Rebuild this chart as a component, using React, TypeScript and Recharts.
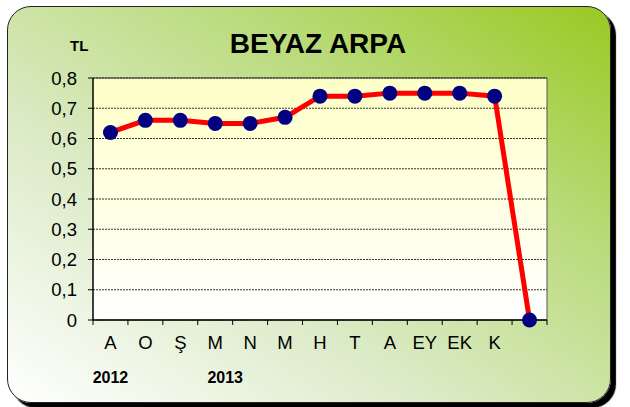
import { LineChart, Line, XAxis, YAxis, CartesianGrid, ReferenceLine } from 'recharts';

const months = ['A', 'O', 'Ş', 'M', 'N', 'M', 'H', 'T', 'A', 'EY', 'EK', 'K', ''];
const prices = [0.62, 0.66, 0.66, 0.65, 0.65, 0.67, 0.74, 0.74, 0.75, 0.75, 0.75, 0.74, 0];
const years = ['2012', '', '', '2013', '', '', '', '', '', '', '', '', ''];
const yTicks = [0, 0.1, 0.2, 0.3, 0.4, 0.5, 0.6, 0.7, 0.8];
const xTicks = [0, 1, 2, 3, 4, 5, 6, 7, 8, 9, 10, 11, 12, 13];

const W = 630;
const H = 407;
const margin = { top: 78, right: 83, bottom: 27, left: 33 };
const Y_AXIS_W = 60;
const BAND = (W - margin.left - Y_AXIS_W - margin.right) / months.length;
const FONT = '"Liberation Sans", Arial, sans-serif';

const data = months.map((m, i) => ({ x: i + 0.5, month: m, price: prices[i] }));

function MonthTick(props: any) {
  const { x, y, payload } = props;
  const i = payload.value;
  if (i >= months.length) return null;
  const cx = x + BAND / 2;
  return (
    <g>
      <text x={cx} y={y + 22} textAnchor="middle" fontSize={18.5} fill="#000" fontFamily={FONT}>
        {months[i]}
      </text>
      {years[i] && (
        <text x={cx + (i === 3 ? 10 : 0)} y={y + 56} textAnchor="middle" fontSize={16} fontWeight="bold" fill="#000" fontFamily={FONT}>
          {years[i]}
        </text>
      )}
    </g>
  );
}

const fmt = (v: number) => (v === 0 ? '0' : v.toFixed(1).replace('.', ','));

export default function App() {
  return (
    <div style={{ position: 'absolute', left: 0, top: 0, width: W, height: H, fontFamily: FONT }}>
      <div
        style={{
          position: 'absolute',
          left: 7,
          top: 6,
          width: 602,
          height: 395,
          borderRadius: 24,
          border: '1.5px solid #222',
          boxShadow: '5px 5px 1px #000',
          background: 'linear-gradient(to top right, #ffffff 0%, #dcebc8 35%, #b9da78 70%, #99c922 100%)',
        }}
      />
      <div style={{ position: 'absolute', left: 70, top: 37, fontSize: 15, fontWeight: 'bold' }}>TL</div>
      <div style={{ position: 'absolute', left: 0, width: 636, top: 28, textAlign: 'center', fontSize: 28, fontWeight: 'bold' }}>
        BEYAZ ARPA
      </div>
      <div style={{ position: 'absolute', left: 0, top: 0 }}>
        <LineChart width={W} height={H} data={data} margin={margin}>
          <defs>
            <linearGradient id="plotBg" x1="0" y1="0" x2="0" y2="1">
              <stop offset="0%" stopColor="#ffffc8" />
              <stop offset="100%" stopColor="#ffffff" />
            </linearGradient>
          </defs>
          <CartesianGrid vertical={false} fill="url(#plotBg)" fillOpacity={1} stroke="#333" strokeDasharray="2 1" />
          <XAxis
            dataKey="x"
            type="number"
            domain={[0, 13]}
            ticks={xTicks}
            interval={0}
            height={60}
            tick={<MonthTick />}
            tickSize={5}
            tickLine={{ stroke: '#000' }}
            axisLine={{ stroke: '#000', strokeWidth: 1.5 }}
          />
          <YAxis
            type="number"
            domain={[0, 0.8]}
            ticks={yTicks}
            width={Y_AXIS_W}
            tickFormatter={fmt}
            tick={{ fill: '#000', fontSize: 18.5, fontFamily: FONT }}
            tickSize={5}
            tickMargin={11}
            tickLine={{ stroke: '#000' }}
            axisLine={{ stroke: '#000', strokeWidth: 1.5 }}
          />
          <ReferenceLine y={0.8} stroke="#333" strokeWidth={1} />
          <ReferenceLine x={13} stroke="#555" strokeWidth={1} />
          <Line
            dataKey="price"
            stroke="#ff0000"
            strokeWidth={5}
            dot={{ r: 7.5, fill: '#000080', stroke: 'none' }}
            activeDot={false}
            isAnimationActive={false}
          />
        </LineChart>
      </div>
    </div>
  );
}
